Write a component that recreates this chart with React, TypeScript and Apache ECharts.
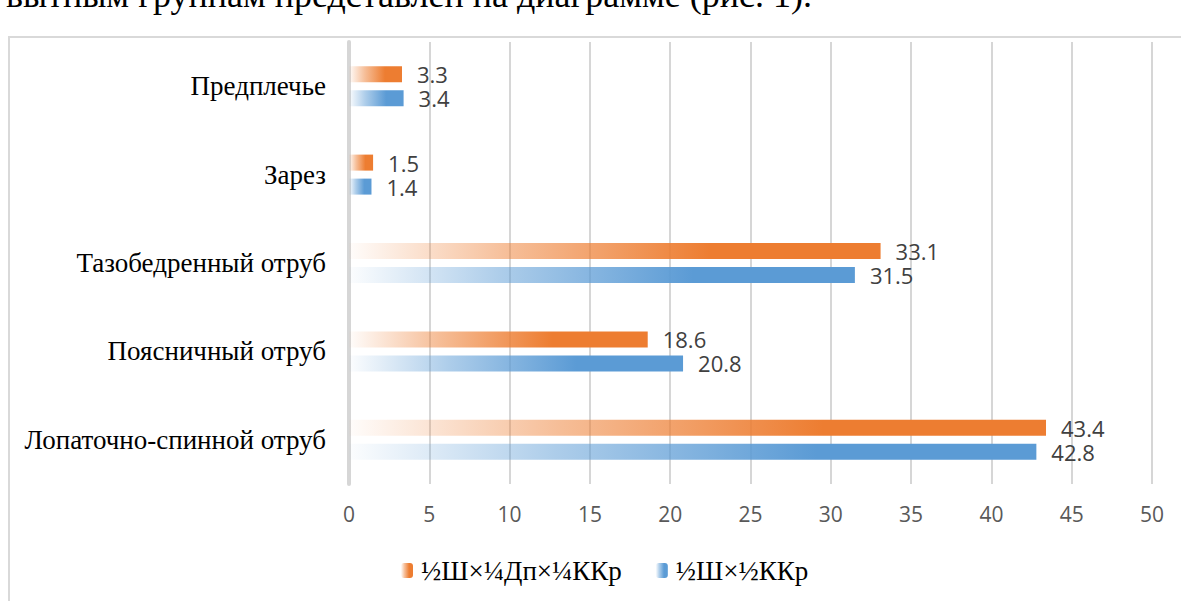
import React, { useEffect, useRef } from "react";
import * as echarts from "echarts";

const categories = [
  "Лопаточно-спинной отруб",
  "Поясничный отруб",
  "Тазобедренный отруб",
  "Зарез",
  "Предплечье",
];
const seriesOrangeName = "½Ш×¼Дп×¼ККр";
const seriesBlueName = "½Ш×½ККр";
const orangeValues = [43.4, 18.6, 33.1, 1.5, 3.3];
const blueValues = [42.8, 20.8, 31.5, 1.4, 3.4];
const xTicks = [0, 5, 10, 15, 20, 25, 30, 35, 40, 45, 50];
const captionText = "вытным группам представлен на диаграмме (рис. 1).";

function grad(r: number, g: number, b: number) {
  return new echarts.graphic.LinearGradient(0, 0, 1, 0, [
    { offset: 0, color: `rgba(${r},${g},${b},0.02)` },
    { offset: 0.3, color: `rgba(${r},${g},${b},0.5)` },
    { offset: 0.68, color: `rgba(${r},${g},${b},1)` },
    { offset: 1, color: `rgba(${r},${g},${b},1)` },
  ]);
}

export default function App() {
  const ref = useRef<HTMLDivElement>(null);
  useEffect(() => {
    if (!ref.current) return;
    const chart = echarts.init(ref.current, undefined, { renderer: "svg" });
    const labelStyle = {
      show: true,
      position: "right" as const,
      distance: 15,
      color: "#404040",
      fontFamily: "Open Sans",
      fontSize: 22,
      formatter: (p: any) => Number(p.value).toFixed(1),
    };
    chart.setOption({
      animation: false,
      backgroundColor: "#ffffff",
      grid: { left: 349, right: 29, top: 42, bottom: 117, containLabel: false },
      legend: {
        data: [seriesOrangeName, seriesBlueName],
        left: 396,
        top: 552,
        itemWidth: 12,
        itemHeight: 15,
        itemGap: 34,
        textStyle: {
          fontFamily: "Liberation Serif",
          fontSize: 27,
          color: "#000000",
          padding: [0, 0, 0, 3],
        },
      },
      xAxis: {
        type: "value",
        min: 0,
        max: 50,
        interval: 5,
        axisLine: { show: false },
        axisTick: { show: false },
        axisLabel: {
          color: "#595959",
          fontFamily: "Open Sans",
          fontSize: 21,
          margin: 19,
          formatter: (v: number) => (xTicks.includes(v) ? String(v) : ""),
        },
        splitLine: { show: true, lineStyle: { color: "#d6d6d6", width: 2 } },
      },
      yAxis: {
        type: "category",
        data: categories,
        axisLine: { show: true, lineStyle: { color: "#d6d6d6", width: 4 } },
        axisTick: { show: false },
        axisLabel: {
          color: "#000000",
          fontFamily: "Liberation Serif",
          fontSize: 27,
          margin: 23,
        },
      },
      series: [
        {
          name: seriesOrangeName,
          type: "bar",
          data: orangeValues,
          barWidth: 16,
          barGap: "50%",
          itemStyle: { color: grad(237, 125, 49) },
          label: labelStyle,
        },
        {
          name: seriesBlueName,
          type: "bar",
          data: blueValues,
          barWidth: 16,
          barGap: "50%",
          itemStyle: { color: grad(91, 155, 213) },
          label: labelStyle,
        },
      ],
      graphic: [
        {
          type: "rect",
          silent: true,
          z: -10,
          shape: { x: 9, y: 37, width: 1300, height: 700 },
          style: { fill: "none", stroke: "#d9d9d9", lineWidth: 2 },
        },
        {
          type: "text",
          silent: true,
          x: 812,
          y: -5,
          style: {
            text: captionText,
            fontFamily: "Liberation Serif",
            fontSize: 36,
            fill: "#000000",
            align: "right",
            verticalAlign: "middle",
          },
        },
      ],
    });
    return () => chart.dispose();
  }, []);
  return (
    <div
      ref={ref}
      style={{ position: "fixed", left: 0, top: 0, width: 1181, height: 601, background: "#fff" }}
    />
  );
}
